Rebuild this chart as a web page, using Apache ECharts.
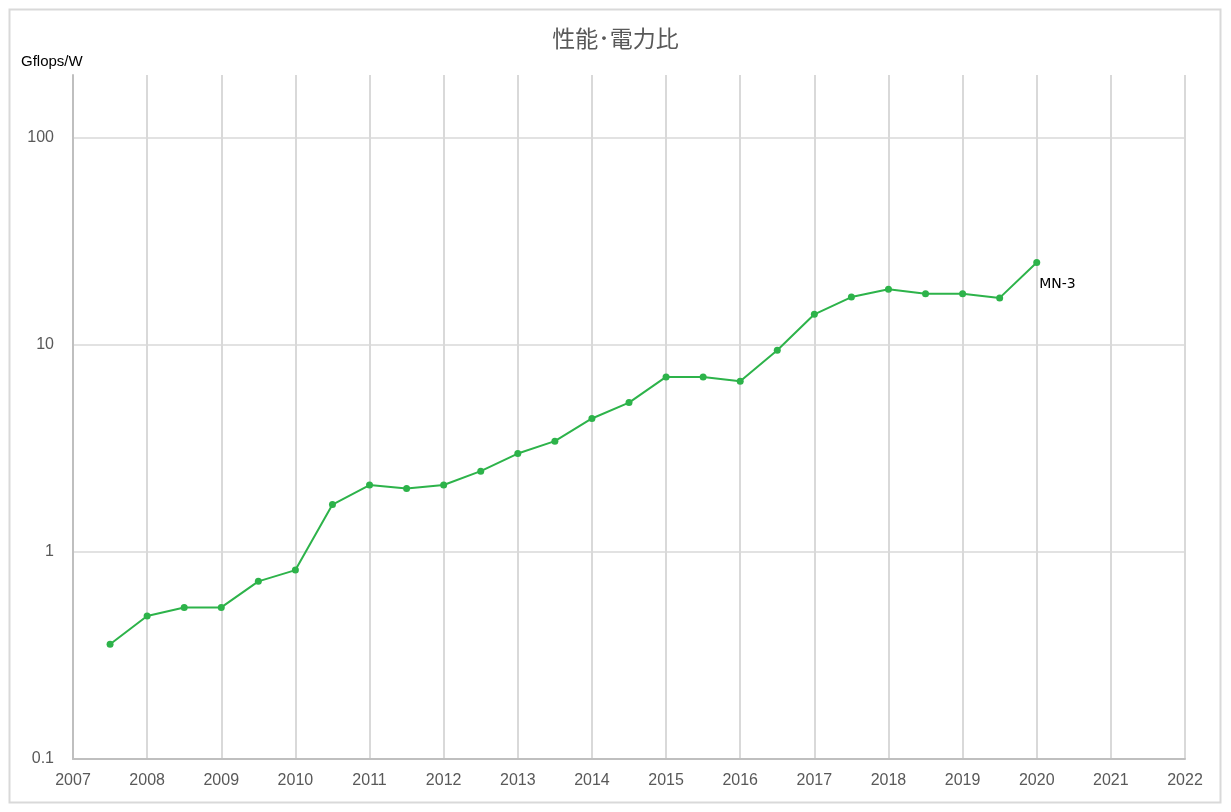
<!DOCTYPE html>
<html>
<head>
<meta charset="utf-8">
<script src="https://cdn.jsdelivr.net/npm/echarts@6/dist/echarts.min.js"></script>
<style>
html, body { margin: 0; padding: 0; background: #fff; }
#main { width: 1231px; height: 812px; }
</style>
</head>
<body>
<div id="main"></div>
<script>
var years = [2007.5, 2008, 2008.5, 2009, 2009.5, 2010, 2010.5, 2011, 2011.5, 2012, 2012.5,
    2013, 2013.5, 2014, 2014.5, 2015, 2015.5, 2016, 2016.5, 2017, 2017.5, 2018, 2018.5,
    2019, 2019.5, 2020];
var gflopsPerW = [0.358, 0.49, 0.539, 0.539, 0.72, 0.816, 1.69, 2.1, 2.02, 2.1, 2.45,
    2.98, 3.42, 4.4, 5.25, 6.98, 6.98, 6.65, 9.39, 14.0, 16.96, 18.5, 17.6,
    17.6, 16.8, 24.9];
var pointNames = [];
for (var i = 0; i < years.length; i++) pointNames.push(i === years.length - 1 ? 'MN-3' : '');

var chart = echarts.init(document.getElementById('main'));

var seriesData = years.map(function (y, i) {
    var item = { value: [y, gflopsPerW[i]], name: pointNames[i] };
    if (pointNames[i]) {
        item.label = {
            show: true,
            position: [6, 18],
            formatter: '{b}',
            color: '#000',
            fontSize: 14,
            fontFamily: 'DejaVu Sans',
            align: 'left',
            verticalAlign: 'top'
        };
    }
    return item;
});

var option = {
    backgroundColor: '#fff',
    animation: false,
    title: {
        text: '性能･電力比',
        left: 'center',
        top: 22,
        textStyle: {
            color: '#595959',
            fontSize: 23,
            fontWeight: 'normal',
            fontFamily: 'Noto Sans CJK JP'
        }
    },
    graphic: [{
        type: 'rect',
        shape: { x: 9.5, y: 9.5, width: 1211, height: 793 },
        style: { fill: 'none', stroke: '#d9d9d9', lineWidth: 2 },
        silent: true
    }, {
        type: 'text',
        left: 21,
        top: 54,
        style: {
            text: 'Gflops/W',
            fill: '#000',
            font: '15px "Liberation Sans"'
        }
    }],
    grid: {
        left: 73,
        right: 46,
        top: 75,
        bottom: 53
    },
    xAxis: {
        type: 'value',
        min: 2007,
        max: 2022,
        interval: 1,
        axisLine: { show: true, lineStyle: { color: '#bfbfbf', width: 2 } },
        axisTick: { show: false },
        axisLabel: {
            color: '#595959',
            fontSize: 16,
            fontFamily: 'Liberation Sans',
            margin: 14,
            formatter: function (v) { return String(v); }
        },
        splitLine: { show: true, lineStyle: { color: '#d9d9d9', width: 2 } }
    },
    yAxis: {
        type: 'log',
        logBase: 10,
        min: 0.1,
        max: 200,
        axisLine: { show: true, lineStyle: { color: '#bfbfbf', width: 2 } },
        axisTick: { show: false },
        axisLabel: {
            color: '#595959',
            fontSize: 16,
            fontFamily: 'Liberation Sans',
            margin: 19,
            showMaxLabel: false,
            formatter: function (v) {
                var l = Math.log10(v);
                if (Math.abs(l - Math.round(l)) > 1e-6) return '';
                return v < 1 ? v.toFixed(1) : String(Math.round(v));
            }
        },
        splitLine: {
            show: true,
            lineStyle: { color: ['#d9d9d9', '#d9d9d9', '#d9d9d9', '#d9d9d9', 'transparent'], width: 1.5 }
        }
    },
    series: [{
        type: 'line',
        data: seriesData,
        symbol: 'circle',
        symbolSize: 7,
        lineStyle: { color: '#2db34a', width: 2 },
        itemStyle: { color: '#2db34a' }
    }]
};
chart.setOption(option);
</script>
</body>
</html>
